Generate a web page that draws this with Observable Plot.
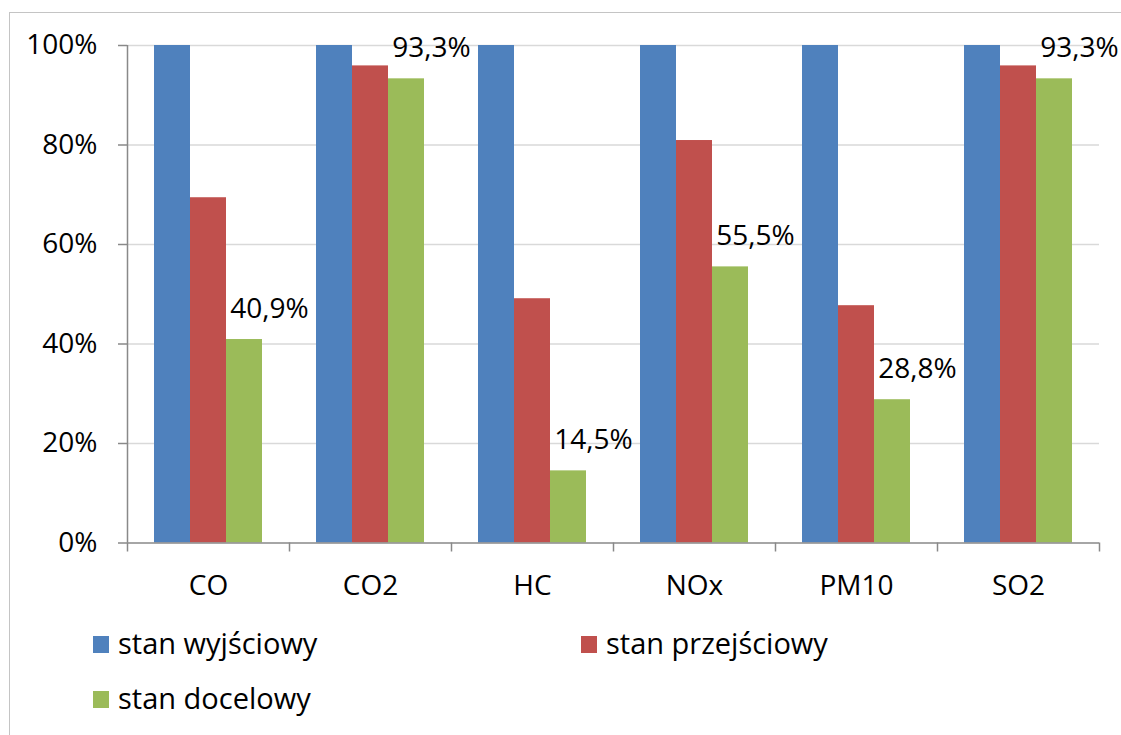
<!DOCTYPE html>
<html lang="pl">
<head>
<meta charset="utf-8">
<script src="https://cdn.jsdelivr.net/npm/d3@7"></script>
<script src="https://cdn.jsdelivr.net/npm/@observablehq/plot@0.6"></script>
<style>
  html, body { margin: 0; padding: 0; background: #fff; overflow: hidden; }
  body { width: 1121px; height: 735px; position: relative; font-family: "Open Sans", sans-serif; }
  #frame { position: absolute; left: 9px; top: 12px; width: 1300px; height: 900px;
           border: 1.5px solid #c4c4c4; box-sizing: border-box; }
  #chart { position: absolute; left: 0; top: 0; }
  #legend { position: absolute; left: 93px; top: 636px; display: grid;
            grid-template-columns: 488px 488px; row-gap: 38px; }
  .item { display: flex; align-items: center; height: 17px; font-size: 29px; color: #000; }
  .swatch { width: 16px; height: 17px; margin-right: 9px; flex: none; }
  .item span { position: relative; top: -2px; white-space: nowrap; }
</style>
</head>
<body>
<div id="frame"></div>
<div id="chart"></div>
<div id="legend"></div>
<script>
// Emission categories and the three scenario series (percent of baseline)
const categories = ["CO", "CO2", "HC", "NOx", "PM10", "SO2"];
const stanWyjsciowy = [100, 100, 100, 100, 100, 100];
const stanPrzejsciowy = [69.4, 95.9, 49.1, 80.9, 47.7, 95.9];
const stanDocelowy = [40.9, 93.3, 14.5, 55.5, 28.8, 93.3];
const seriesNames = ["stan wyjściowy", "stan przejściowy", "stan docelowy"];
const seriesColors = ["#4F81BD", "#C0504D", "#9BBB59"];
const yTicks = [0, 20, 40, 60, 80, 100];

const fmtPct = v => v.toFixed(1).replace(".", ",") + "%";

const rows = categories.map((c, i) => ({
  cat: c,
  a: stanWyjsciowy[i],
  b: stanPrzejsciowy[i],
  c2: stanDocelowy[i]
}));

const band = 162;       // width of one category band
const barW = 36;        // width of a single bar
const gap = 27;         // free space at each side of a group
const axisGray = "#898989";
const fs = 28;

const bar = (key, k) => Plot.barY(rows, {
  x: "cat", y: key, fill: seriesColors[k],
  insetLeft: gap + k * barW, insetRight: band - gap - (k + 1) * barW
});

const chart = Plot.plot({
  width: 1121,
  height: 620,
  marginLeft: 127,
  marginRight: 22,
  marginTop: 45,
  marginBottom: 77.5,
  x: { domain: categories, padding: 0, axis: null },
  y: { domain: [0, 100], axis: null },
  style: { fontFamily: "Open Sans", fontSize: fs + "px", color: "#000", background: "transparent", overflow: "visible" },
  marks: [
    // horizontal gridlines
    Plot.ruleY(yTicks.filter(d => d > 0), { stroke: "#d9d9d9", strokeWidth: 1.5 }),
    bar("a", 0),
    bar("b", 1),
    bar("c2", 2),
    // value labels over the target-state bars
    Plot.text(rows, {
      x: "cat", y: "c2", text: d => fmtPct(d.c2),
      dx: 61, dy: -22, lineAnchor: "bottom", textAnchor: "middle",
      fill: "#000", fontSize: fs
    }),
    // vertical axis line
    Plot.ruleX([categories[0]], { dx: -band / 2, y1: 0, y2: 100, stroke: axisGray, strokeWidth: 1.5 }),
    // baseline
    Plot.ruleY([0], { stroke: axisGray, strokeWidth: 1.5 }),
    // category boundary ticks
    Plot.ruleX(categories, { dx: -band / 2, y1: 0, y2: 0, insetBottom: -9, stroke: axisGray, strokeWidth: 1.5 }),
    Plot.ruleX([categories[categories.length - 1]], { dx: band / 2, y1: 0, y2: 0, insetBottom: -9, stroke: axisGray, strokeWidth: 1.5 }),
    Plot.axisY(yTicks, {
      tickSize: 9, tickPadding: 21, tickFormat: d => d + "%",
      stroke: axisGray, strokeWidth: 1.5, fill: "#000", fontSize: fs, label: null
    }),
    Plot.axisX({ tickSize: 0, tickPadding: 32, fill: "#000", fontSize: fs, label: null })
  ]
});
document.getElementById("chart").append(chart);

// legend
const legend = document.getElementById("legend");
seriesNames.forEach((name, k) => {
  const item = document.createElement("div");
  item.className = "item";
  const sw = document.createElement("div");
  sw.className = "swatch";
  sw.style.background = seriesColors[k];
  const label = document.createElement("span");
  label.textContent = name;
  item.append(sw, label);
  legend.append(item);
});
</script>
</body>
</html>
